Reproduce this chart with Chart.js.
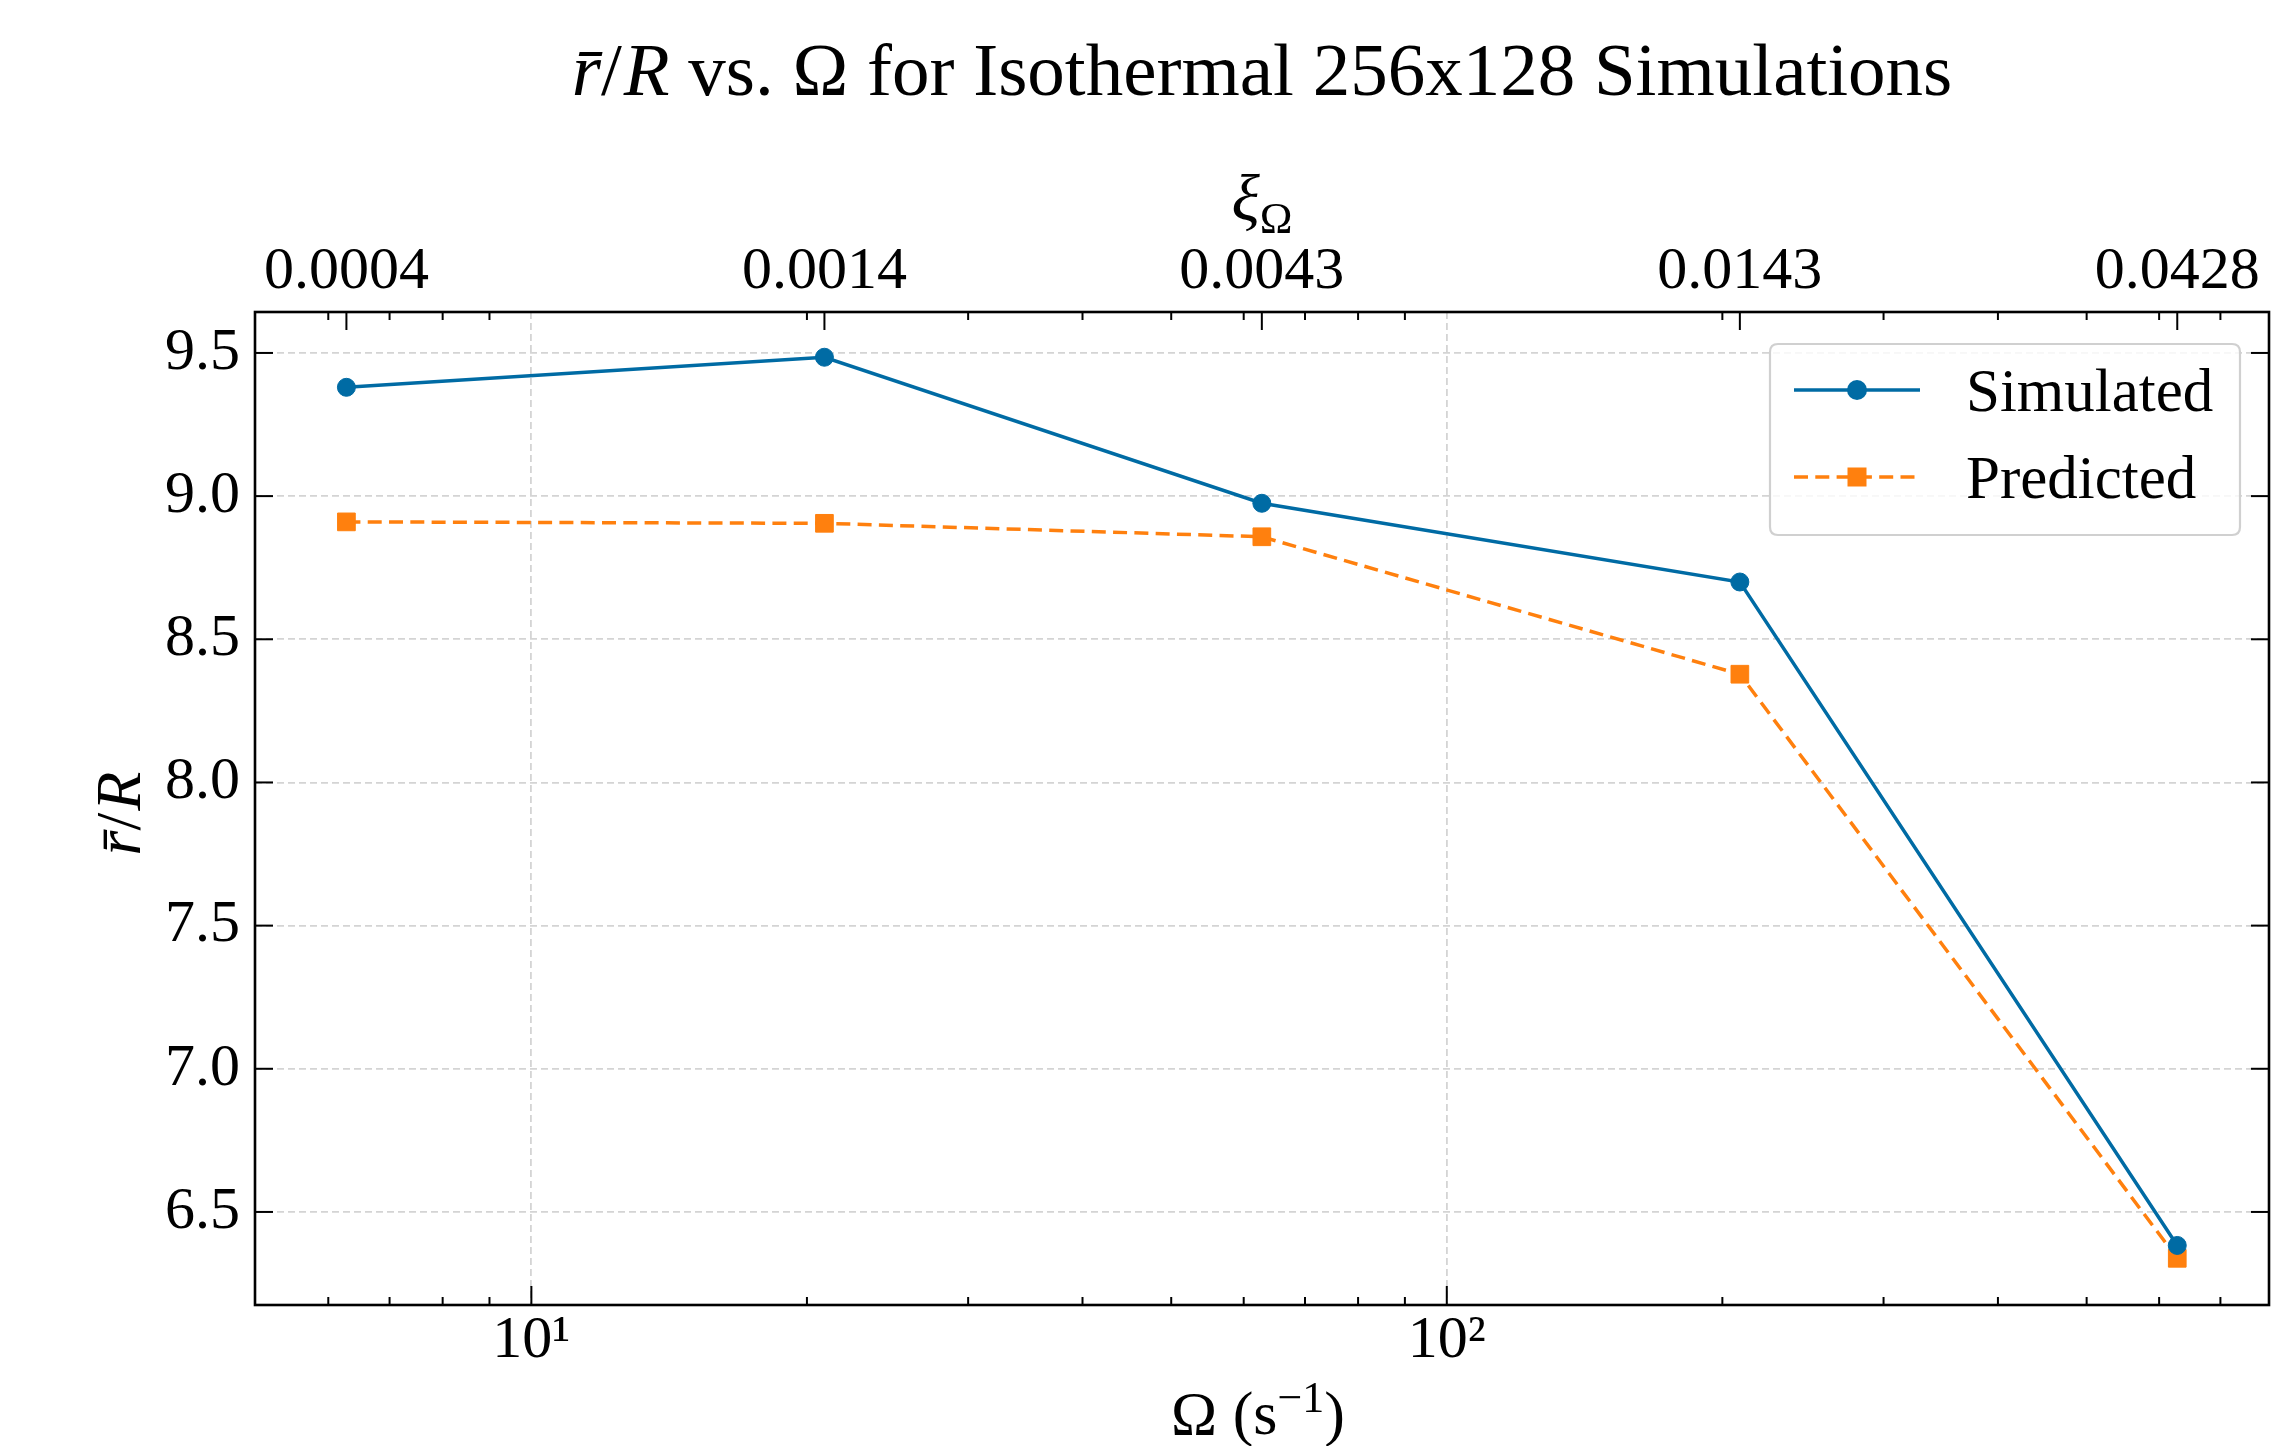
<!DOCTYPE html>
<html><head><meta charset="utf-8">
<script src="https://cdn.jsdelivr.net/npm/chart.js@4.4.1/dist/chart.umd.min.js"></script>
<style>html,body{margin:0;padding:0;background:#fff;} canvas{display:block;}</style>
</head><body>
<canvas id="c" width="2272" height="1446"></canvas>
<script>
// ---- data ----
const omega = [6.28, 20.9, 62.8, 209, 628];
const xiLabels = ['0.0004', '0.0014', '0.0043', '0.0143', '0.0428'];
const simulated = [9.38, 9.485, 8.975, 8.70, 6.383];
const predicted = [8.91, 8.905, 8.858, 8.378, 6.338];
const seriesNames = ['Simulated', 'Predicted'];
const yTickValues = [6.5, 7.0, 7.5, 8.0, 8.5, 9.0, 9.5];
const xMajorTicks = [10, 100];
const xMinorTicks = [6, 7, 8, 9, 20, 30, 40, 50, 60, 70, 80, 90, 200, 300, 400, 500, 600, 700];

const SERIF = "'Liberation Serif', 'Times New Roman', serif";
const BLUE = '#006BA4';
const ORANGE = '#FF800E';
const GRID = '#d4d4d4';

const SUP = {'0':'\u2070','1':'\u00B9','2':'\u00B2','3':'\u00B3','4':'\u2074','5':'\u2075','6':'\u2076','7':'\u2077','8':'\u2078','9':'\u2079','-':'\u207B'};
function supText(s){ return String(s).split('').map(c => SUP[c] || c).join(''); }

function font(size, style){ return (style === 'italic' ? 'italic ' : '') + size + 'px ' + SERIF; }
function drawRich(ctx, pieces, x, y) {
  let total = 0;
  pieces.forEach(p => { ctx.font = font(p.size, p.style); p.w = ctx.measureText(p.text).width; total += p.w + (p.kern || 0); });
  let cx = x - total / 2;
  ctx.textAlign = 'left';
  ctx.textBaseline = 'alphabetic';
  pieces.forEach(p => {
    ctx.font = font(p.size, p.style);
    ctx.fillText(p.text, cx, y + (p.dy || 0));
    cx += p.w + (p.kern || 0);
  });
}

const decorPlugin = {
  id: 'decor',
  afterDatasetsDraw(chart) {
    const ctx = chart.ctx;
    const a = chart.chartArea;
    const xs = chart.scales.x, xt = chart.scales.xTop, ys = chart.scales.y;
    ctx.save();
    ctx.strokeStyle = '#000';
    ctx.lineWidth = 2;
    ctx.setLineDash([]);
    const line = (x1, y1, x2, y2) => { ctx.beginPath(); ctx.moveTo(x1, y1); ctx.lineTo(x2, y2); ctx.stroke(); };
    // bottom ticks
    xMajorTicks.forEach(v => { const px = xs.getPixelForValue(v); line(px, a.bottom, px, a.bottom - 19); });
    xMinorTicks.forEach(v => { const px = xs.getPixelForValue(v); line(px, a.bottom, px, a.bottom - 8); });
    // top ticks
    omega.forEach(v => { const px = xt.getPixelForValue(v); line(px, a.top, px, a.top + 18); });
    xMinorTicks.forEach(v => { const px = xt.getPixelForValue(v); line(px, a.top, px, a.top + 8); });
    // left / right ticks
    yTickValues.forEach(v => { const py = ys.getPixelForValue(v); line(a.left, py, a.left + 18, py); line(a.right, py, a.right - 18, py); });
    // frame
    ctx.lineWidth = 2.6;
    ctx.strokeRect(a.left, a.top, a.right - a.left, a.bottom - a.top);

    // legend (matplotlib-like)
    const bw = 470, bh = 191;
    const bx = a.right - 29 - bw, by = a.top + 32;
    const r = 8;
    ctx.beginPath();
    ctx.moveTo(bx + r, by); ctx.lineTo(bx + bw - r, by); ctx.quadraticCurveTo(bx + bw, by, bx + bw, by + r);
    ctx.lineTo(bx + bw, by + bh - r); ctx.quadraticCurveTo(bx + bw, by + bh, bx + bw - r, by + bh);
    ctx.lineTo(bx + r, by + bh); ctx.quadraticCurveTo(bx, by + bh, bx, by + bh - r);
    ctx.lineTo(bx, by + r); ctx.quadraticCurveTo(bx, by, bx + r, by);
    ctx.closePath();
    ctx.fillStyle = 'rgba(255,255,255,0.8)';
    ctx.fill();
    ctx.strokeStyle = '#d0d0d0';
    ctx.lineWidth = 2.2;
    ctx.stroke();
    chart.data.datasets.forEach((ds, i) => {
      const ry = by + 46 + i * 87;
      ctx.strokeStyle = ds.borderColor;
      ctx.lineWidth = ds.borderWidth;
      ctx.setLineDash(ds.borderDash || []);
      line(bx + 24, ry, bx + 150, ry);
      ctx.setLineDash([]);
      ctx.fillStyle = ds.borderColor;
      const mx = bx + 87;
      if (ds.pointStyle === 'rect') { ctx.fillRect(mx - 9.5, ry - 9.5, 19, 19); }
      else { ctx.beginPath(); ctx.arc(mx, ry, 10, 0, Math.PI * 2); ctx.fill(); }
      ctx.fillStyle = '#000';
      ctx.font = font(61);
      ctx.textAlign = 'left';
      ctx.textBaseline = 'alphabetic';
      ctx.fillText(ds.label, bx + 196, ry + 21);
    });
    ctx.restore();
  },
  afterDraw(chart) {
    const ctx = chart.ctx;
    const a = chart.chartArea;
    const cx = (a.left + a.right) / 2;
    ctx.save();
    ctx.fillStyle = '#000';
    // main title
    drawRich(ctx, [
      {text: 'r\u0304', size: 75, style: 'italic'},
      {text: '/', size: 75, kern: 2},
      {text: 'R', size: 75, style: 'italic'},
      {text: ' vs. \u03A9 for Isothermal 256x128 Simulations', size: 75}
    ], cx, 95);
    // top axis title
    drawRich(ctx, [
      {text: '\u03BE', size: 66, style: 'italic'},
      {text: '\u03A9', size: 44, dy: 13}
    ], cx, 220);
    // bottom axis title
    drawRich(ctx, [
      {text: '\u03A9 (', size: 62},
      {text: 's', size: 62},
      {text: '\u22121', size: 44, dy: -22},
      {text: ')', size: 62}
    ], cx - 4, 1434);
    // y axis title
    ctx.translate(140, (a.top + a.bottom) / 2 + 5);
    ctx.rotate(-Math.PI / 2);
    drawRich(ctx, [
      {text: 'r\u0304', size: 64, style: 'italic'},
      {text: '/', size: 64, kern: 2},
      {text: 'R', size: 64, style: 'italic'}
    ], 0, 0);
    ctx.restore();
  }
};

const tickFont = {family: SERIF, size: 60, lineHeight: 1};

new Chart(document.getElementById('c'), {
  type: 'line',
  data: {
    datasets: [
      {
        label: seriesNames[0],
        data: omega.map((x, i) => ({x: x, y: simulated[i]})),
        borderColor: BLUE, backgroundColor: BLUE,
        borderWidth: 3.5, pointStyle: 'circle', pointRadius: 9,
        pointBorderWidth: 1, pointBackgroundColor: BLUE, pointBorderColor: BLUE,
        tension: 0, fill: false
      },
      {
        label: seriesNames[1],
        data: omega.map((x, i) => ({x: x, y: predicted[i]})),
        borderColor: ORANGE, backgroundColor: ORANGE,
        borderWidth: 3.5, borderDash: [14, 7.3], pointStyle: 'rect', pointRadius: 12.5,
        pointBorderWidth: 1, pointBackgroundColor: ORANGE, pointBorderColor: ORANGE,
        tension: 0, fill: false
      }
    ]
  },
  options: {
    responsive: false,
    devicePixelRatio: 1,
    animation: false,
    layout: {autoPadding: false, padding: {left: 0, right: 3, top: 0, bottom: 0}},
    plugins: {legend: {display: false}, title: {display: false}, tooltip: {enabled: false}},
    scales: {
      x: {
        type: 'logarithmic', position: 'bottom', min: 4.99, max: 791,
        afterBuildTicks: s => { s.ticks = xMajorTicks.map(v => ({value: v, major: true})); },
        afterFit: s => { s.height = 141; s.paddingLeft = 0; s.paddingRight = 0; },
        ticks: {
          autoSkip: false, maxRotation: 0, minRotation: 0, padding: 6,
          color: '#000', font: tickFont,
          callback: v => '10' + supText(Math.round(Math.log10(v)))
        },
        grid: {color: GRID, lineWidth: 1.8, drawTicks: false},
        border: {display: false, dash: [7, 4]}
      },
      xTop: {
        axis: 'x', type: 'logarithmic', position: 'top', min: 4.99, max: 791,
        afterBuildTicks: s => { s.ticks = omega.map(v => ({value: v})); },
        afterFit: s => { s.height = 312; s.paddingLeft = 0; s.paddingRight = 0; },
        ticks: {
          autoSkip: false, maxRotation: 0, minRotation: 0, padding: 10,
          color: '#000', font: tickFont,
          callback: (v, i) => xiLabels[i]
        },
        grid: {display: false, drawTicks: false},
        border: {display: false}
      },
      y: {
        type: 'linear', position: 'left', min: 6.175, max: 9.643,
        afterBuildTicks: s => { s.ticks = yTickValues.map(v => ({value: v})); },
        afterFit: s => { s.width = 255; s.paddingTop = 0; s.paddingBottom = 0; },
        ticks: {padding: 15, color: '#000', font: tickFont, callback: v => Number(v).toFixed(1)},
        grid: {color: GRID, lineWidth: 1.8, drawTicks: false},
        border: {display: false, dash: [7, 4]}
      }
    }
  },
  plugins: [decorPlugin]
});
</script>
</body></html>
